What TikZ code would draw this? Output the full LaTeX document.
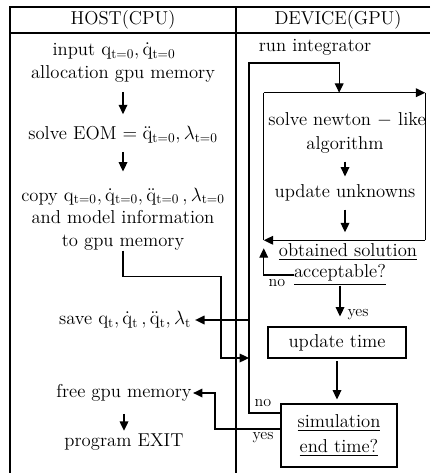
\documentclass[tikz,border=0pt]{standalone}
\usepackage{amsmath}
\usetikzlibrary{arrows.meta}
\begin{document}
\begin{tikzpicture}[x=0.75pt,y=-0.75pt,
  font=\fontsize{14}{17}\selectfont,
  txt/.style={inner sep=0pt, align=center},
  lbl/.style={inner sep=0pt, font=\fontsize{12}{14}\selectfont},
  frame/.style={line width=1.5pt},
  ln/.style={line width=0.9pt},
  arr/.style={ln, -{Triangle[length=7pt,width=6.5pt]}},
  box/.style={draw, line width=0.8pt, inner sep=0pt, align=center}]
\useasboundingbox (0,0) rectangle (430,473);
% frame
\draw[frame] (430,7) -- (10,7) -- (10,473);
\draw[frame] (10,33) -- (430,33);
\draw[frame] (236,7) -- (236,473);
\node[txt] (hhost) at (123,20) {HOST(CPU)};
\node[txt] (hdev) at (338,20) {DEVICE(GPU)};
% host column
\node[txt] (input) at (114,51) {input $\mathrm{q}_{\mathrm{t=0}},\dot{\mathrm{q}}_{\mathrm{t=0}}$};
\node[txt] (alloc) at (123,74) {allocation gpu memory};
\node[txt] (eom) at (123,135) {solve EOM $=\ddot{\mathrm{q}}_{\mathrm{t=0}},\lambda_{\mathrm{t=0}}$};
\node[txt] (copy) at (123,219) {copy $\mathrm{q}_{\mathrm{t=0}},\dot{\mathrm{q}}_{\mathrm{t=0}},\ddot{\mathrm{q}}_{\mathrm{t=0}}\,,\lambda_{\mathrm{t=0}}$\\and model information\\to gpu memory};
\node[txt] (save) at (125,320) {save $\mathrm{q}_{\mathrm{t}},\dot{\mathrm{q}}_{\mathrm{t}}\,,\ddot{\mathrm{q}}_{\mathrm{t}},\lambda_{\mathrm{t}}$};
\node[txt] (free) at (124,393) {free gpu memory};
\node[txt] (exit) at (124,442) {program EXIT};
% device column
\node[txt] (run) at (315,47) {run integrator};
\node[minimum width=120.75pt, minimum height=110.25pt, inner sep=0pt] (nbox) at (344.5,166.5) {};
\node[txt] (newton) at (347,120) {solve newton $-$ like};
\node[txt] (algo) at (345,145) {algorithm};
\node[txt] (unk) at (345,193) {update unknowns};
\node[txt] (obt) at (348,252) {\underline{obtained solution}};
\node[txt] (acc) at (340,275) {\underline{acceptable?}};
\node[box, minimum width=103.5pt, minimum height=23.25pt] (ut) at (337,342.5) {update time};
\node[box, minimum width=87pt, minimum height=47.25pt] (sim) at (339,435.5) {\underline{simulation}\\[2pt]\underline{end time?}};
\node[lbl] (no1) at (277,283) {no};
\node[lbl] (yes1) at (358,315) {yes};
\node[lbl] (no2) at (263,403) {no};
\node[lbl] (yes2) at (263,438) {yes};
\coordinate (sv) at (249,320);
\coordinate (cp) at (249,358);
% newton loop box
\draw[arr] (nbox.north west) -- (nbox.north east);
\draw[ln] (nbox.north east) -- (nbox.south east);
\draw[arr] (nbox.south east) -- (nbox.south west);
\draw[ln] (nbox.south west) -- (nbox.north west);
% host arrows
\draw[arr, shorten <=7pt, shorten >=9pt] (alloc.south) -- (alloc.south |- eom.north);
\draw[arr, shorten <=6pt, shorten >=12pt] (eom.south) -- (eom.south |- copy.north);
\draw[arr] (copy.south) -- ++(0,26) -| (221,358) -- (cp);
\draw[arr, shorten >=3pt] (sv) -- (save.east);
\draw[arr, shorten <=9pt, shorten >=2pt] (free.south) -- (free.south |- exit.north);
% device arrows
\draw[arr] ([yshift=16.9pt]sim.west) -| (249,63) -| ([xshift=-4pt]nbox.north);
\draw[arr, shorten <=6pt, shorten >=6pt] (algo.south) -- (algo.south |- unk.north);
\draw[arr, shorten <=6pt, shorten >=6pt] (unk.south) -- (unk.south |- nbox.south);
\draw[arr] (acc.west) -| ([yshift=-6pt]nbox.south west);
\draw[arr, shorten >=7.5pt] (acc.south) -- (acc.south |- ut.north);
\draw[arr, shorten <=2pt, shorten >=3pt] (ut.south) -- (ut.south |- sim.north);
\draw[arr, shorten >=1pt] ([yshift=4.9pt]sim.west) -| (215,393) -- (free.east);
\end{tikzpicture}
\end{document}
